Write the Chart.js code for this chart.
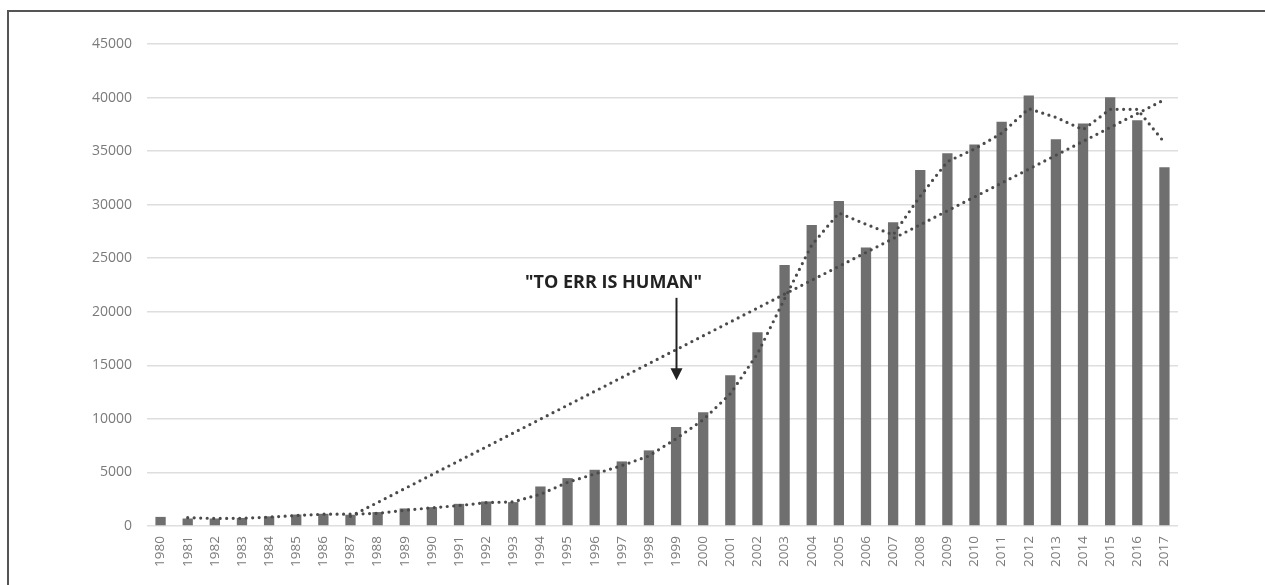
<!DOCTYPE html>
<html>
<head>
<meta charset="utf-8">
<script src="https://cdn.jsdelivr.net/npm/chart.js@4.4.1/dist/chart.umd.min.js"></script>
<style>
  html, body { margin: 0; padding: 0; background: #fff; }
  #wrap { position: relative; width: 1265px; height: 585px; overflow: hidden; }
  #frame { position: absolute; left: 7px; top: 10px; right: -10px; bottom: -10px;
           border-left: 2px solid #555; border-top: 2px solid #555; }
  canvas { position: absolute; left: 0; top: 0; }
</style>
</head>
<body>
<div id="wrap">
  <div id="frame"></div>
  <canvas id="chart" width="1265" height="585"></canvas>
</div>
<script>
const years = [
  '1980', '1981', '1982', '1983', '1984', '1985', '1986', '1987', '1988', '1989',
  '1990', '1991', '1992', '1993', '1994', '1995', '1996', '1997', '1998', '1999',
  '2000', '2001', '2002', '2003', '2004', '2005', '2006', '2007', '2008', '2009',
  '2010', '2011', '2012', '2013', '2014', '2015', '2016', '2017',
];

// bar heights
const counts = [
  850, 700, 700, 750, 900, 1070, 1140, 1050, 1300, 1640,
  1760, 2070, 2290, 2230, 3690, 4470, 5250, 6030, 7060, 9240,
  10610, 14070, 18090, 24360, 28100, 30340, 26010, 28350, 33240, 34800,
  35610, 37730, 40190, 36110, 37570, 40040, 37890, 33490,
];

// dotted moving-average line (starts at 1981)
const movingAvg = [
  null, 780, 700, 720, 830, 980, 1100, 1100, 1180, 1470,
  1700, 1910, 2180, 2260, 2960, 4080, 4860, 5640, 6540, 8150,
  9920, 12340, 16080, 21220, 26230, 29220, 28170, 27180, 30800, 34020,
  35200, 36670, 38960, 38150, 37000, 38900, 38900, 35800,
];

// straight dotted trend: 1987 -> 2017
const trendStart = { year: '1987', value: 900 };
const trendEnd = { year: '2017', value: 39800 };
const trendLine = years.map((y) =>
  y === trendStart.year ? trendStart.value : y === trendEnd.year ? trendEnd.value : null
);

const yTicks = { min: 0, max: 45000, step: 5000 };

const note = { text: '"TO ERR IS HUMAN"', year: '1999', textValue: 22700, from: 21300, to: 13600 };

const annotationPlugin = {
  id: 'errNote',
  afterDatasetsDraw(chart) {
    const { ctx, scales: { x, y } } = chart;
    const ax = Math.round(x.getPixelForValue(years.indexOf(note.year))) + 0.5;
    const y0 = y.getPixelForValue(note.from);
    const y1 = y.getPixelForValue(note.to);
    ctx.save();
    ctx.font = 'bold 18px "Open Sans", sans-serif';
    ctx.fillStyle = '#222';
    ctx.textAlign = 'center';
    ctx.textBaseline = 'middle';
    ctx.fillText(note.text, ax - 63, y.getPixelForValue(note.textValue));
    ctx.strokeStyle = '#222';
    ctx.lineWidth = 2;
    ctx.beginPath();
    ctx.moveTo(ax, y0);
    ctx.lineTo(ax, y1 - 10);
    ctx.stroke();
    ctx.beginPath();
    ctx.moveTo(ax - 6, y1 - 12);
    ctx.lineTo(ax + 6, y1 - 12);
    ctx.lineTo(ax, y1);
    ctx.closePath();
    ctx.fill();
    ctx.restore();
  },
};

const tickColor = '#7a7a7a';
const dotted = {
  type: 'line',
  borderColor: '#4a4a4a',
  borderWidth: 3.2,
  borderDash: [0, 6.5],
  borderCapStyle: 'round',
  pointRadius: 0,
  tension: 0,
  fill: false,
  order: 1,
};

new Chart(document.getElementById('chart'), {
  type: 'bar',
  data: {
    labels: years,
    datasets: [
      {
        label: 'Count',
        data: counts,
        backgroundColor: '#6f6f6f',
        barPercentage: 0.38,
        categoryPercentage: 1,
        order: 2,
      },
      { ...dotted, label: 'Moving average', data: movingAvg },
      { ...dotted, label: 'Trend', data: trendLine, spanGaps: true },
    ],
  },
  options: {
    responsive: false,
    animation: false,
    layout: { padding: { left: 0, top: 44, right: 87, bottom: 0 } },
    plugins: {
      legend: { display: false },
      tooltip: { enabled: false },
    },
    scales: {
      x: {
        grid: { display: false, drawTicks: false },
        border: { display: false },
        ticks: {
          color: tickColor,
          font: { family: '"Open Sans", sans-serif', size: 13.5 },
          minRotation: 90,
          maxRotation: 90,
          autoSkip: false,
          padding: 10,
        },
        afterFit: (scale) => { scale.height = 59; },
      },
      y: {
        min: yTicks.min,
        max: yTicks.max,
        grid: { color: '#dedede', lineWidth: 1.5, drawTicks: false },
        border: { display: false },
        ticks: {
          stepSize: yTicks.step,
          color: tickColor,
          font: { family: '"Open Sans", sans-serif', size: 14 },
          padding: 15,
          callback: (v) => String(v),
        },
        afterFit: (scale) => { scale.width = 147; },
      },
    },
  },
  plugins: [annotationPlugin],
});
</script>
</body>
</html>
